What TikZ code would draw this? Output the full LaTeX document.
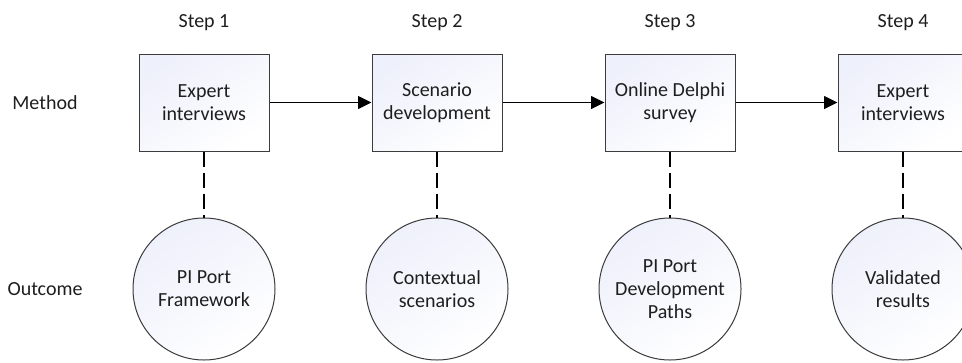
\documentclass[tikz,border=0pt]{standalone}
\usepackage{fontspec}
\setmainfont{Carlito}
\usetikzlibrary{arrows.meta,positioning}

\definecolor{stepfill}{RGB}{238,240,251}
\definecolor{rimgray}{RGB}{60,60,60}
\definecolor{inkblack}{RGB}{30,30,30}

\tikzset{
  methodbox/.style={rectangle,draw=rimgray,line width=0.75pt,minimum width=97.5pt,
    minimum height=72.75pt,align=center,top color=stepfill,bottom color=white,
    shading angle=35,text=inkblack},
  outcomecircle/.style={circle,draw=rimgray,line width=0.75pt,minimum size=106.5pt,
    inner sep=0pt,align=center,top color=stepfill,bottom color=white,
    shading angle=35,text=inkblack},
  rowlabel/.style={text=inkblack,inner sep=0pt},
}

\begin{document}
\begin{tikzpicture}[x=0.75pt,y=0.75pt,>={Triangle[length=10pt,width=9.5pt]},
    node distance=76.5pt,font=\fontsize{15}{17.4}\selectfont]

                \useasboundingbox (0,0) rectangle (962,362);

                \node[methodbox] (box1) at (204,259.5) {Expert\\interviews};

                \node[methodbox] (box2) [right=of box1] {Scenario\\development};

                \node[methodbox] (box3) [right=of box2] {Online Delphi\\survey};

                \node[methodbox] (box4) [right=of box3] {Expert\\interviews};

                \node[outcomecircle] (circ1) [below=49.5pt of box1] {PI Port\\Framework};

                \node[outcomecircle] (circ2) [below=49.5pt of box2] {Contextual\\scenarios};

                \node[outcomecircle] (circ3) [below=49.5pt of box3] {PI Port\\Development\\Paths};

                \node[outcomecircle] (circ4) [below=49.5pt of box4] {Validated\\results};

                

                \node[rowlabel] (step1) [above=17pt of box1] {Step 1};

                \node[rowlabel] (step2) [above=17pt of box2] {Step 2};

                \node[rowlabel] (step3) [above=17pt of box3] {Step 3};

                \node[rowlabel] (step4) [above=17pt of box4] {Step 4};

                \node[rowlabel] (method) at (45,259.5) {Method};

                \node[rowlabel] (outcome) at (method |- circ1) {Outcome};

                

                \path[->,line width=1.1pt,draw=black] (box1) edge (box2)

                          (box2) edge (box3)

                          (box3) edge (box4);

                \path[line width=1.1pt,dash pattern=on 11.25pt off 4.5pt,draw=black]

                          (box1) edge (circ1)

                          (box2) edge (circ2)

                          (box3) edge (circ3)

                          (box4) edge (circ4);

            \end{tikzpicture}
\end{document}
